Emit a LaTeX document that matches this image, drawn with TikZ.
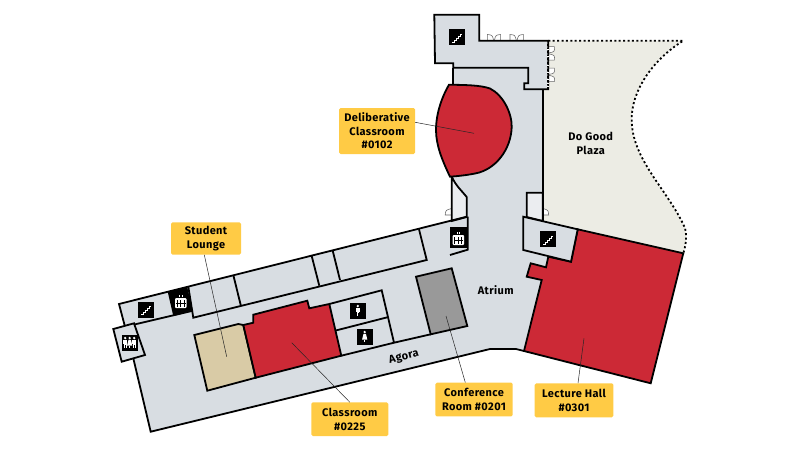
\documentclass[tikz,border=0pt]{standalone}
\usepackage{fontspec}
\setmainfont{Fira Sans}[LetterSpace=3.5]
\usepackage{xcolor}
\definecolor{floor}{HTML}{D8DDE2}
\definecolor{closet}{HTML}{EBEDF0}
\definecolor{plaza}{HTML}{ECECE4}
\definecolor{hall}{HTML}{CC2936}
\definecolor{lounge}{HTML}{D9CBA6}
\definecolor{confroom}{HTML}{999999}
\definecolor{tag}{HTML}{FFCB45}
\usetikzlibrary{positioning, calc}
\tikzstyle{Wall} = [line width=1.8pt, line join=miter, draw=black]
\tikzstyle{Door} = [line width=0.55pt, draw=black!60, fill=white]
\tikzstyle{Leader} = [line width=0.5pt, draw=black!85]
\tikzstyle{Label} = [fill=tag, rounded corners=1.5pt, align=center, inner sep=0pt,
font=\bfseries\fontsize{11}{13.5}\selectfont]
\tikzstyle{Place} = [align=center, inner sep=0pt,
font=\bfseries\fontsize{11}{13.5}\selectfont]
\tikzstyle{Icon} = [fill=black]
\tikzstyle{Glyph} = [fill=white, draw=none]
\newcommand{\StairIcon}[2]{
    \fill[Icon] (#1,#2) rectangle ++(16,16);
    \draw[white, line width=0.45pt] ($(#1,#2)+(3,13)$) -- ++(2,0) -- ++(0,-2) -- ++(2,0) -- ++(0,-2) -- ++(2,0) -- ++(0,-2) -- ++(2,0) -- ++(0,-2) -- ++(2,0);
}
\newcommand{\PersonIcon}[2]{
    \fill[Glyph] (#1,#2) circle[radius=1.3pt];
    \fill[Glyph] ($(#1,#2)+(-1.9,1.8)$) rectangle ($(#1,#2)+(1.9,6)$);
    \fill[Glyph] ($(#1,#2)+(-1.3,6)$) rectangle ($(#1,#2)+(1.3,10)$);
    \fill[black] ($(#1,#2)+(-0.2,6.5)$) rectangle ($(#1,#2)+(0.2,10)$);
}
\newcommand{\WomanIcon}[2]{
    \fill[Glyph] (#1,#2) circle[radius=1.3pt];
    \fill[Glyph] ($(#1,#2)+(-1.2,1.8)$) -- ($(#1,#2)+(1.2,1.8)$) -- ($(#1,#2)+(2.6,7.5)$) -- ($(#1,#2)+(-2.6,7.5)$) -- cycle;
    \fill[Glyph] ($(#1,#2)+(-1.2,7.5)$) rectangle ($(#1,#2)+(1.2,10)$);
    \fill[black] ($(#1,#2)+(-0.2,7.8)$) rectangle ($(#1,#2)+(0.2,10)$);
}
\newcommand{\LiftIcon}[2]{
    \fill[Glyph, rounded corners=1pt] (#1,#2) rectangle ++(11.5,10);
    \foreach \i in {2.4,5.7,9} {
        \fill[black] ($(#1,#2)+(\i-0.5,1.5)$) rectangle ($(#1,#2)+(\i+0.5,8.5)$);
    }
    \fill[black] ($(#1,#2)+(1,4.5)$) rectangle ($(#1,#2)+(10.5,5.3)$);
    \draw[white, line width=0.4pt] ($(#1,#2)+(4.5,-1)$) -- ++(0,-2) ($(#1,#2)+(7,-1)$) -- ++(0,-2);
}
\newcommand{\DoorsUp}[2]{
    \draw[Door] (#1,#2) -- ++(0,-6.2) .. controls ++(5,0.5) .. ++(6.4,6.2);
    \draw[Door] ($(#1,#2)+(13.4,0)$) -- ++(0,-6.2) .. controls ++(-5,0.5) .. ++(-6.4,6.2);
}
\newcommand{\DoorsSide}[2]{
    \draw[Door] (#1,#2) -- ++(6,0) .. controls ++(0.5,5) .. ++(-6,6.4);
    \draw[Door] ($(#1,#2)+(0,13.4)$) -- ++(6,0) .. controls ++(0.5,-5) .. ++(-6,-6.4);
}
\begin{document}
\begin{tikzpicture}[x=1pt, y=-1pt]
    \useasboundingbox (0,0) rectangle (800,450);

    % plaza
    \fill[plaza] (548.3,40.7) -- (683.3,40.7) .. controls (652,60) and (631,92) .. (631.7,120)
        .. controls (632,160) and (668,190) .. (685,228) .. controls (687,236) and (686,245) .. (683.3,253.3)
        -- (542.7,220) -- (542.7,85) -- (548.3,85) -- cycle;
    \draw[line width=1.8pt, dash pattern=on 2pt off 2.4pt] (548.3,40.7) -- (683.3,40.7) .. controls (652,60) and (631,92) .. (631.7,120)
        .. controls (632,160) and (668,190) .. (685,228) .. controls (687,236) and (686,245) .. (683.3,253.3);

    % doors
    \DoorsUp{487.3}{40.7}
    \DoorsUp{510}{40.7}
    \DoorsSide{548.3}{46.7}
    \DoorsSide{548.3}{68.2}
    \draw[Door] (451.7,215) -- ++(-6.5,0) .. controls ++(0.5,-5) .. ++(6.5,-6.5);
    \draw[Door] (542.7,215) -- ++(6,0) .. controls ++(-0.5,-5) .. ++(-6,-6.5);

    % main floor
    \fill[floor] (453.3,67.7) -- (528.3,67.7) -- (528.3,83.3) -- (524.3,89.3) -- (542.7,89.3) -- (542.7,192.7) -- (526.7,192.7)
        -- (526.7,216) -- (523.3,216.7) -- (523.3,250) -- (548,257) -- (546,267.3) -- (530.7,263.3) -- (526.7,276.7) -- (541.7,280)
        -- (524,351) -- (516,349) -- (490,349) -- (150.7,431.7) -- (133.3,358.3) -- (125,326.7) -- (119,304)
        -- (466.7,216.7) -- (466.7,197) -- (451.7,176.7) -- (453.3,84) -- cycle;
    \draw[Wall] (453.3,67.7) -- (453.3,85);
    \draw[Wall] (542.7,89.3) -- (542.7,221);

    % closets either side of the atrium
    \draw[Wall, fill=closet] (451.7,176.7) .. controls (456,186) and (462,191) .. (466.7,197) -- (466.7,217) -- (451.7,221) -- cycle;
    \draw[Wall, fill=closet] (526.7,192.7) -- (542.7,192.7) -- (542.7,221) -- (526.7,217) -- cycle;

    % tower and entry wing
    \draw[Wall, fill=floor] (479.3,40.7) -- (479.3,14.7) -- (434.3,14.7) -- (435,63.3) -- (453.3,63.3) -- (453.3,67.7)
        -- (528.3,67.7) -- (528.3,83.3) -- (524.3,83.3) -- (524.3,89.3) -- (548.3,89.3) -- (548.3,40.7) -- cycle;
    \draw[line width=1.8pt, dash pattern=on 2pt off 1.5pt, white] (548.3,44) -- (548.3,89);
    \draw[line width=1.8pt, dash pattern=on 1.6pt off 2pt] (548.3,44) -- (548.3,89);

    % outer walls
    \draw[Wall] (466.7,216.7) -- (119,304) -- (125,326.7) -- (191.7,311);
    \draw[Wall] (133.3,358.3) -- (150.7,431.7) -- (490,349) -- (516,349) -- (524,351);
    \draw[Wall, fill=floor] (113.3,329) -- (134,323.3) -- (145,355) -- (121.7,361.7) -- cycle;

    % corridor rooms
    \draw[Wall] (188.3,286.7) -- (193.3,317.7) -- (426.7,260) -- (419,229.3);
    \draw[Wall] (233.3,275) -- (240.7,305);
    \draw[Wall] (311.7,256) -- (319.3,285.7);
    \draw[Wall] (332.7,250.7) -- (340,280);
    \draw[Wall] (450,255) -- (467.7,249.7) -- (467.7,216.7);
    \fill[black] (167.7,291.7) -- (187.3,287.3) -- (192.7,311) -- (173.3,316) -- cycle;
    \fill[black] (450,227.3) rectangle (467.7,248.3);

    % lecture hall
    \draw[Wall, fill=hall] (577.7,229.3) -- (683.3,253.3) -- (650.7,383.3) -- (524,351) -- (541.7,280) -- (526.7,276.7)
        -- (530.7,263.3) -- (546,267.3) -- (548.3,256.7) -- (571,261.7) -- cycle;
    \draw[Wall, fill=floor] (523.3,216.7) -- (577.7,229.3) -- (571,261.7) -- (523.3,250) -- cycle;

    % deliberative classroom
    \draw[Wall, fill=hall] (449,84.7) .. controls (465,85) and (480,85) .. (490,88.5)
        .. controls (503,95) and (512,113) .. (511.7,127) .. controls (511,150) and (495,170) .. (475,173.5)
        .. controls (465,175.5) and (458,176) .. (450,176.7) .. controls (442,160) and (436,145) .. (436,130)
        .. controls (436,112) and (443,95) .. (449,84.7) -- cycle;

    % rooms along the agora
    \draw[Wall, fill=lounge] (194.3,335) -- (238.3,324) -- (243.3,325) -- (255.7,377.7) -- (207.3,390.7) -- cycle;
    \draw[Wall, fill=hall] (243.3,325) -- (253.3,322.7) -- (253.3,314.7) -- (307.3,300.7) -- (309.3,308.3) -- (329.3,304)
        -- (341.3,355.7) -- (255.7,377.7) -- cycle;
    \draw[Wall] (329.3,304) -- (381.7,290.3) -- (394,342.7);
    \draw[Wall] (335,330.7) -- (387.3,317.3);
    \draw[Wall] (341.3,355.7) -- (394,342.7) -- (430.7,334.3);
    \draw[Wall, fill=confroom] (416,276.7) -- (451.7,268.3) -- (467.3,326) -- (430.7,334.3) -- cycle;

    % icons
    \StairIcon{449}{29.3}
    \StairIcon{138.3}{301.7}
    \StairIcon{540}{231}
    \LiftIcon{175}{298}
    \LiftIcon{452.5}{235}
    \fill[Icon] (121.7,335) rectangle ++(16,16);
    \PersonIcon{125.2}{338}
    \WomanIcon{129.7}{338}
    \PersonIcon{134.2}{338}
    \fill[Icon] (350,303) rectangle ++(15.7,15.7);
    \PersonIcon{357.8}{306}
    \fill[Icon] (356.7,329) rectangle ++(16,16);
    \WomanIcon{364.7}{332}

    % labels
    \node[Label, minimum width=76pt, minimum height=46pt] (deliberative) at (377,131) {Deliberative\\Classroom\\\#0102};
    \node[Label, minimum width=70pt, minimum height=32.4pt] (student) at (206,238.5) {Student\\Lounge};
    \node[Label, minimum width=77pt, minimum height=33.6pt] (classroom) at (349.8,419.2) {Classroom\\\#0225};
    \node[Label, minimum width=77.4pt, minimum height=33.6pt] (conference) at (474,399.5) {Conference\\Room \#0201};
    \node[Label, minimum width=78.6pt, minimum height=34pt] (lecture) at (574,400.3) {Lecture Hall\\\#0301};
    \node[Place] (plazaname) at (590.7,143.3) {Do Good\\Plaza};
    \node[Place] (atrium) at (495.7,290) {Atrium};
    \node[Place, rotate=14] (agora) at (404,357) {Agora};

    \coordinate (deliberativeend) at (474,133.3);
    \coordinate (studentend) at (226.7,356.7);
    \coordinate (classroomend) at (291.7,342.7);
    \coordinate (conferenceend) at (446,316);
    \coordinate (lectureend) at (584,338.3);

    \draw[Leader] ([yshift=8.7pt]deliberative.east) -- (deliberativeend);
    \draw[Leader] ([xshift=-1.7pt]student.south) -- (studentend);
    \draw[Leader] (classroom.north) -- (classroomend);
    \draw[Leader] ([xshift=-8.7pt]conference.north) -- (conferenceend);
    \draw[Leader] ([xshift=4pt]lecture.north) -- (lectureend);
\end{tikzpicture}
\end{document}
